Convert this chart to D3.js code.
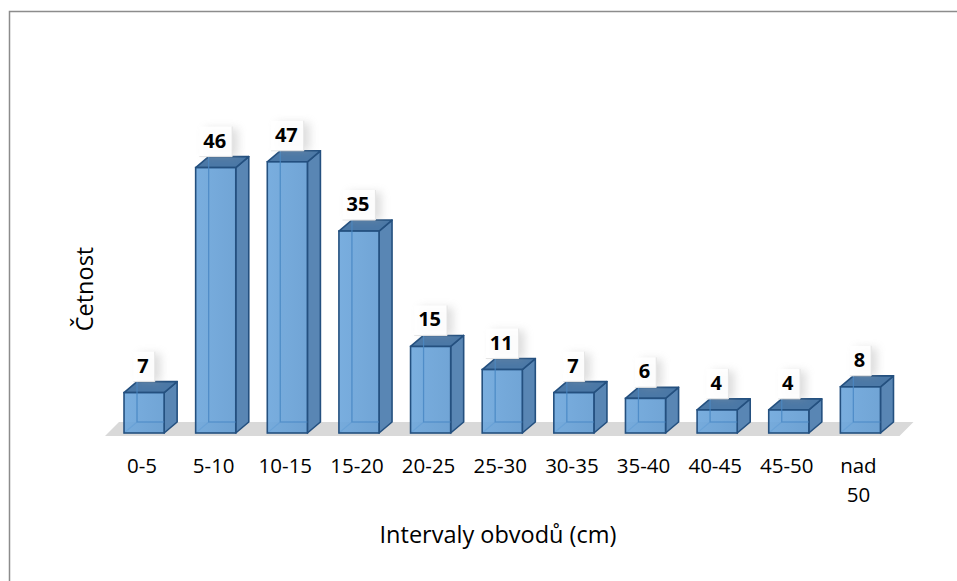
<!DOCTYPE html>
<html>
<head>
<meta charset="utf-8">
<script src="https://cdn.jsdelivr.net/npm/d3@7"></script>
<style>
  html, body { margin: 0; padding: 0; background: #fff; }
  svg { display: block; font-family: 'Open Sans', Lato, sans-serif; }
</style>
</head>
<body>
<div class="chart"></div>
<script>
// intervals and counts
const categories = ['0-5', '5-10', '10-15', '15-20', '20-25', '25-30', '30-35', '35-40', '40-45', '45-50', 'nad 50'];
const counts = [7, 46, 47, 35, 15, 11, 7, 6, 4, 4, 8];
const xTitle = 'Intervaly obvodů (cm)';
const yTitle = 'Četnost';

const data = categories.map((c, i) => ({ cat: c, value: counts[i] }));

const width = 957;
const height = 581;
const depth = { dx: 13, dy: -11 };

const svg = d3.select('.chart')
  .append('svg')
  .attr('width', width)
  .attr('height', height);

const defs = svg.append('defs');
const grad = defs.append('linearGradient')
  .attr('id', 'frontGrad')
  .attr('x1', 0).attr('x2', 1).attr('y1', 0).attr('y2', 0);
grad.append('stop').attr('offset', '0%').attr('stop-color', '#6ea7dc');
grad.append('stop').attr('offset', '100%').attr('stop-color', '#659dd2');

const shadow = defs.append('filter')
  .attr('id', 'lblShadow')
  .attr('x', '-50%').attr('y', '-50%')
  .attr('width', '200%').attr('height', '200%');
shadow.append('feGaussianBlur').attr('stdDeviation', 4);

// chart border (runs off the right and bottom edges)
svg.append('rect')
  .attr('x', 9.5).attr('y', 11.5)
  .attr('width', 1200).attr('height', 1000)
  .attr('fill', 'none')
  .attr('stroke', '#8c8c8c')
  .attr('stroke-width', 1.5);

const x = d3.scaleBand()
  .domain(categories)
  .range([92.5, 912])
  .padding(0.44);

const y = d3.scaleLinear()
  .domain([0, 50])
  .range([433, 144.5]);

const bw = x.bandwidth();

// floor
const fl = x(categories[0]) - 19;
const fr = x(categories[categories.length - 1]) + bw + 19;
const fy = y(0) + 3;
svg.append('path')
  .attr('d', `M${fl},${fy} L${fr},${fy} L${fr + 14},${fy - 14} L${fl + 14},${fy - 14} Z`)
  .attr('fill', '#d9d9d9');

// bars
const bars = svg.selectAll('g.bar')
  .data(data)
  .enter()
  .append('g')
  .attr('class', 'bar');

const stroke = '#24507f';

// back edges seen through the box
bars.append('path')
  .attr('d', (d) => {
    const x0 = x(d.cat) + depth.dx;
    const yb = y(0) + depth.dy;
    const yt = y(d.value) + depth.dy;
    return `M${x0},${yt} L${x0},${yb} L${x0 + bw},${yb} M${x0},${yb} L${x(d.cat)},${y(0)}`;
  })
  .attr('fill', 'none')
  .attr('stroke', '#3f77ae')
  .attr('stroke-width', 1.2);

// right side
bars.append('path')
  .attr('d', (d) => {
    const x1 = x(d.cat) + bw;
    return `M${x1},${y(d.value)} L${x1 + depth.dx},${y(d.value) + depth.dy} L${x1 + depth.dx},${y(0) + depth.dy} L${x1},${y(0)} Z`;
  })
  .attr('fill', '#5986b4')
  .attr('stroke', stroke)
  .attr('stroke-width', 1.6)
  .attr('stroke-linejoin', 'round');

// top
bars.append('path')
  .attr('d', (d) => {
    const x0 = x(d.cat);
    const yt = y(d.value);
    return `M${x0},${yt} L${x0 + bw},${yt} L${x0 + bw + depth.dx},${yt + depth.dy} L${x0 + depth.dx},${yt + depth.dy} Z`;
  })
  .attr('fill', '#4b78a6')
  .attr('stroke', stroke)
  .attr('stroke-width', 1.6)
  .attr('stroke-linejoin', 'round');

// front
bars.append('rect')
  .attr('x', (d) => x(d.cat))
  .attr('y', (d) => y(d.value))
  .attr('width', bw)
  .attr('height', (d) => y(0) - y(d.value))
  .attr('fill', 'url(#frontGrad)')
  .attr('fill-opacity', 0.92)
  .attr('stroke', stroke)
  .attr('stroke-width', 1.6);

// inner back edges again, faint over front face
bars.append('path')
  .attr('d', (d) => {
    const x0 = x(d.cat) + depth.dx;
    const yb = y(0) + depth.dy;
    const yt = y(d.value) + depth.dy;
    return `M${x0},${yt} L${x0},${yb} L${x(d.cat) + bw},${yb}`;
  })
  .attr('fill', 'none')
  .attr('stroke', '#4a88c4')
  .attr('stroke-width', 1.2)
  .attr('opacity', 0.8);

// value labels with a white box and soft shadow
const labels = svg.selectAll('g.lbl')
  .data(data)
  .enter()
  .append('g')
  .attr('class', 'lbl');

const lblText = labels.append('text')
  .attr('x', (d) => x(d.cat) + bw / 2 - 1)
  .attr('y', (d) => y(d.value) + depth.dy - 9)
  .attr('text-anchor', 'middle')
  .attr('font-size', 20)
  .attr('font-weight', 'bold')
  .attr('fill', '#000')
  .text((d) => d.value);

lblText.each(function (d) {
  const bb = this.getBBox();
  d.box = { x: bb.x - 4, w: bb.width + 10, y: y(d.value) + depth.dy - 30, h: 30 };
});

labels.insert('rect', 'text')
  .attr('x', (d) => d.box.x + 6)
  .attr('y', (d) => d.box.y + 2)
  .attr('width', (d) => d.box.w)
  .attr('height', (d) => d.box.h - 2)
  .attr('fill', '#a0a0a0')
  .attr('opacity', 0.35)
  .attr('filter', 'url(#lblShadow)');

labels.insert('rect', 'text')
  .attr('x', (d) => d.box.x)
  .attr('y', (d) => d.box.y)
  .attr('width', (d) => d.box.w)
  .attr('height', (d) => d.box.h)
  .attr('fill', '#fff')
  .attr('fill-opacity', 0.9);

// thin light edge along the bottom and right of each box
labels.insert('path', 'text')
  .attr('d', (d) => `M${d.box.x},${d.box.y + d.box.h} L${d.box.x + d.box.w},${d.box.y + d.box.h} L${d.box.x + d.box.w},${d.box.y}`)
  .attr('fill', 'none')
  .attr('stroke', '#e4e4e4')
  .attr('stroke-width', 1);

// category labels (wrap on space)
const catLabels = svg.selectAll('text.cat')
  .data(data)
  .enter()
  .append('text')
  .attr('class', 'cat')
  .attr('text-anchor', 'middle')
  .attr('font-size', 20.5)
  .attr('fill', '#000')
  .attr('y', 473);

catLabels.each(function (d) {
  const parts = d.cat.split(' ');
  const t = d3.select(this);
  parts.forEach((p, i) => {
    t.append('tspan')
      .attr('x', x(d.cat) + bw / 2 - 2)
      .attr('dy', i === 0 ? 0 : 29)
      .text(p);
  });
});

// axis titles
svg.append('text')
  .attr('x', 498)
  .attr('y', 543)
  .attr('text-anchor', 'middle')
  .attr('font-size', 23.5)
  .attr('fill', '#000')
  .text(xTitle);

svg.append('text')
  .attr('transform', 'translate(93,289) rotate(-90)')
  .attr('text-anchor', 'middle')
  .attr('font-size', 23.5)
  .attr('fill', '#000')
  .text(yTitle);
</script>
</body>
</html>
